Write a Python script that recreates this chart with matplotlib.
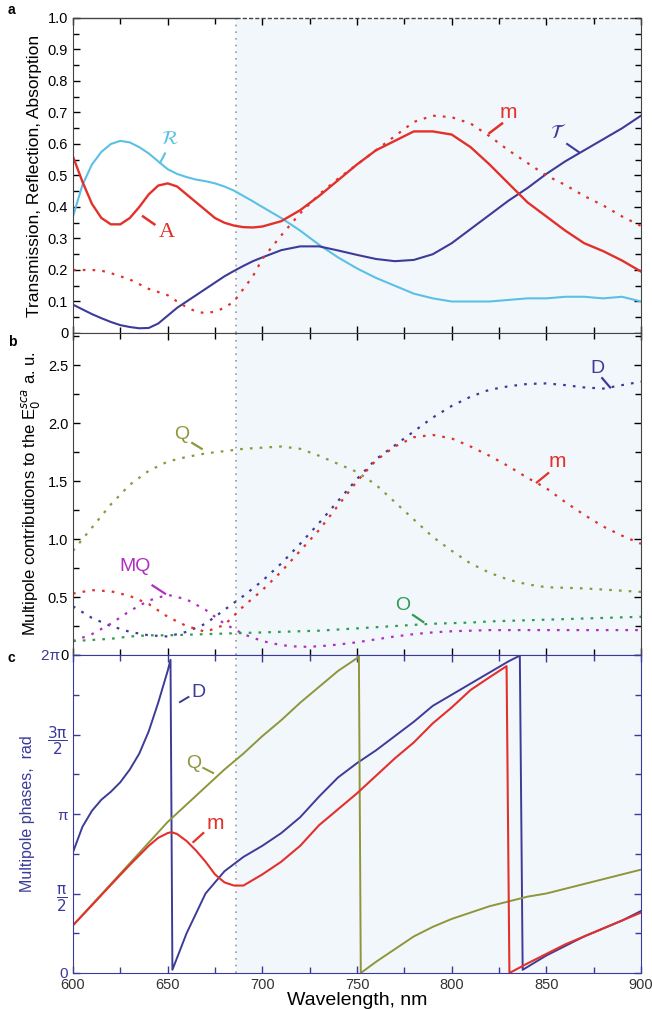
import numpy as np
import matplotlib
matplotlib.use("Agg")
import matplotlib.pyplot as plt
from matplotlib.ticker import MultipleLocator, FixedLocator

plt.rcParams['font.family'] = ['Liberation Sans', 'DejaVu Sans']
plt.rcParams['mathtext.fontset'] = 'dejavusans'

# ---------------- data ----------------
wl_a = [600, 605, 610, 615, 620, 625, 630, 635, 640, 645, 650, 655, 660, 665, 670,
        675, 680, 685, 690, 695, 700, 710, 720, 730, 740, 750, 760, 770, 780, 790,
        800, 810, 820, 830, 840, 850, 860, 870, 880, 890, 900]

# panel a
refl = [0.37, 0.47, 0.535, 0.575, 0.60, 0.61, 0.605, 0.59, 0.57, 0.545, 0.52, 0.505,
        0.495, 0.487, 0.482, 0.475, 0.465, 0.452, 0.435, 0.418, 0.40, 0.365,
        0.325, 0.28, 0.24, 0.205, 0.175, 0.15, 0.125, 0.11, 0.10, 0.10, 0.10, 0.105,
        0.11, 0.11, 0.115, 0.115, 0.11, 0.115, 0.10]
trans = [0.09, 0.075, 0.06, 0.047, 0.035, 0.025, 0.019, 0.015, 0.016, 0.03, 0.055,
         0.08, 0.10, 0.12, 0.14, 0.16, 0.18, 0.197, 0.213, 0.228, 0.24, 0.263,
         0.275, 0.275, 0.262, 0.248, 0.235, 0.228, 0.232, 0.25, 0.285, 0.33, 0.375,
         0.42, 0.46, 0.505, 0.545, 0.58, 0.615, 0.65, 0.69]
absorp = [0.56, 0.48, 0.41, 0.365, 0.345, 0.345, 0.365, 0.40, 0.44, 0.468, 0.475,
          0.465, 0.44, 0.415, 0.39, 0.365, 0.35, 0.341, 0.336, 0.335, 0.338, 0.355,
          0.39, 0.435, 0.485, 0.535, 0.58, 0.61, 0.64, 0.64, 0.63, 0.59, 0.535, 0.475,
          0.415, 0.37, 0.325, 0.285, 0.26, 0.23, 0.195]
absorp_m = [0.20, 0.20, 0.20, 0.198, 0.19, 0.18, 0.17, 0.155, 0.14, 0.13, 0.12, 0.10,
            0.082, 0.068, 0.063, 0.068, 0.08, 0.10, 0.14, 0.18, 0.235, 0.31,
            0.38, 0.44, 0.49, 0.535, 0.58, 0.625, 0.67, 0.69, 0.685, 0.665, 0.625, 0.58,
            0.54, 0.50, 0.47, 0.435, 0.405, 0.37, 0.34]

# panel b
wl_b = np.arange(600, 901, 10)
cont_Q = [0.90, 1.10, 1.30, 1.47, 1.59, 1.67, 1.71, 1.74, 1.76, 1.78, 1.79, 1.80,
          1.78, 1.72, 1.65, 1.58, 1.47, 1.32, 1.17, 1.02, 0.90, 0.79, 0.71, 0.65,
          0.61, 0.585, 0.58, 0.575, 0.565, 0.555, 0.545]
cont_D = [0.42, 0.32, 0.25, 0.20, 0.17, 0.16, 0.20, 0.27, 0.39, 0.51, 0.64, 0.79,
          0.96, 1.14, 1.33, 1.52, 1.69, 1.81, 1.93, 2.05, 2.15, 2.23, 2.29, 2.32,
          2.34, 2.345, 2.33, 2.31, 2.30, 2.33, 2.36]
cont_m = [0.53, 0.56, 0.55, 0.51, 0.44, 0.33, 0.25, 0.20, 0.26, 0.42, 0.56, 0.72,
          0.90, 1.08, 1.29, 1.50, 1.68, 1.80, 1.88, 1.90, 1.87, 1.80, 1.72, 1.63,
          1.53, 1.44, 1.32, 1.21, 1.11, 1.03, 0.96]
cont_MQ = [0.12, 0.18, 0.27, 0.38, 0.47, 0.52, 0.48, 0.39, 0.27, 0.18, 0.12, 0.085,
           0.07, 0.075, 0.09, 0.11, 0.135, 0.16, 0.18, 0.195, 0.205, 0.21, 0.215, 0.215,
           0.215, 0.215, 0.215, 0.215, 0.215, 0.215, 0.215]
cont_O = [0.12, 0.13, 0.14, 0.16, 0.17, 0.17, 0.175, 0.18, 0.185, 0.19, 0.195, 0.20,
          0.205, 0.21, 0.22, 0.23, 0.24, 0.25, 0.26, 0.27, 0.275, 0.28, 0.29, 0.295,
          0.30, 0.305, 0.31, 0.315, 0.32, 0.325, 0.33]

# panel c : phases in units of 2*pi (fraction of a full turn)
wl_phD = [600, 605, 610, 615, 620, 625, 630, 635, 640, 645, 650, 651.5, 652.5,
          660, 670, 680, 690, 700, 710, 720, 730, 740, 750, 760, 770, 780, 790,
          800, 810, 820, 830, 836, 837.5, 850, 860, 870, 880, 890, 900]
ph_D = [0.38, 0.46, 0.51, 0.545, 0.57, 0.60, 0.64, 0.69, 0.76, 0.85, 0.95, 0.985, 0.01,
        0.125, 0.25, 0.32, 0.365, 0.40, 0.44, 0.49, 0.555, 0.615, 0.66, 0.70, 0.745,
        0.79, 0.84, 0.875, 0.91, 0.945, 0.98, 0.998, 0.01, 0.055, 0.085, 0.115,
        0.14, 0.165, 0.195]
wl_phQ = [600, 610, 620, 630, 640, 650, 660, 670, 680, 690, 700, 710, 720, 730, 740,
          750, 751, 752, 760, 770, 780, 790, 800, 810, 820, 830, 840, 850, 860, 870,
          880, 890, 900]
ph_Q = [0.15, 0.215, 0.28, 0.345, 0.41, 0.475, 0.53, 0.585, 0.64, 0.69, 0.745, 0.795,
        0.85, 0.90, 0.95, 0.99, 0.998, 0.0, 0.035, 0.075, 0.115, 0.145, 0.17, 0.19,
        0.21, 0.225, 0.24, 0.25, 0.265, 0.28, 0.295, 0.31, 0.325]
wl_phm = [600, 610, 620, 630, 640, 645, 650, 652, 655, 660, 665, 670, 675, 680, 685,
          690, 700, 710, 720, 730, 740, 750, 760, 770, 780, 790, 800, 810, 820, 829,
          830.5, 840, 850, 860, 870, 880, 890, 900]
ph_m = [0.15, 0.213, 0.277, 0.34, 0.40, 0.425, 0.44, 0.443, 0.437, 0.415, 0.385, 0.35,
        0.31, 0.285, 0.275, 0.275, 0.31, 0.35, 0.40, 0.465, 0.515, 0.565, 0.62, 0.675,
        0.725, 0.785, 0.835, 0.89, 0.93, 0.965, 0.0, 0.03, 0.06, 0.09, 0.115, 0.14,
        0.165, 0.19]

phase_ticks = [0, np.pi / 2, np.pi, 3 * np.pi / 2, 2 * np.pi]
phase_ticklabels = ['0', r'$\dfrac{\mathrm{\pi}}{2}$', 'π', r'$\dfrac{3\mathrm{\pi}}{2}$', '2π  ']
x_ticks = [600, 650, 700, 750, 800, 850, 900]
region_start = 686

# ---------------- style ----------------
c_R = '#5cc0e6'
c_T = '#3c3c98'
c_red = '#e2312b'
c_Q = '#8f963a'
c_MQ = '#b02ec0'
c_O = '#2f9a52'
c_ax = '#3a3a9a'
shade = '#f2f7fc'
dot = (0, (1.2, 3.2))

fig = plt.figure(figsize=(6.52, 10.09), dpi=100)
L, R = 73 / 652, 641 / 652
H = 1009
def box(top, bot):
    return [L, 1 - bot / H, R - L, (bot - top) / H]

axa = fig.add_axes(box(18, 333))
axb = fig.add_axes(box(333, 655))
axc = fig.add_axes(box(655, 973))

for ax in (axa, axb, axc):
    ax.set_xlim(600, 900)
    ax.axvspan(region_start, 900, color=shade, zorder=0, lw=0)
    ax.axvline(region_start, color='#9a9a9a', ls=(0, (1, 3)), lw=1.2, zorder=1)
    ax.xaxis.set_major_locator(FixedLocator(x_ticks))
    ax.xaxis.set_minor_locator(MultipleLocator(25))
    ax.tick_params(which='both', direction='in', top=True, right=True, labelsize=10.5)
    ax.tick_params(which='major', length=5, width=1)
    ax.tick_params(which='minor', length=4, width=1)

# panel a
axa.plot(wl_a, refl, color=c_R, lw=1.5)
axa.plot(wl_a, trans, color=c_T, lw=1.5)
axa.plot(wl_a, absorp, color=c_red, lw=1.7)
axa.plot(wl_a, absorp_m, color=c_red, lw=1.6, ls=dot)
axa.set_ylim(0, 1.0)
axa.set_yticks(np.arange(0, 1.01, 0.1))
axa.set_yticklabels(['0', '0.1', '0.2', '0.3', '0.4', '0.5', '0.6', '0.7', '0.8', '0.9', '1.0'])
axa.yaxis.set_minor_locator(MultipleLocator(0.05))
axa.tick_params(axis='x', labelbottom=False)
for s in axa.spines.values():
    s.set_color('#444444')
axa.spines['top'].set_visible(False)
axa.plot([600, region_start], [1, 1], color='#444444', lw=1, clip_on=False)
axa.plot([region_start, 900], [1, 1], color='#444444', lw=1, ls=(0, (3, 1.5)), clip_on=False)
axa.set_ylabel('Transmission, Reflection, Absorption', fontsize=12.5, labelpad=4)

axa.text(651, 0.615, r'$\mathcal{R}$', color=c_R, fontsize=14, ha='center', va='center')
axa.plot([648.6, 646], [0.57, 0.54], color=c_R, lw=1.5)
axa.text(649.6, 0.32, 'A', color=c_red, fontsize=16, family='Liberation Serif', ha='center', va='center')
axa.plot([637, 643], [0.37, 0.345], color=c_red, lw=1.8)
axa.text(830, 0.70, 'm', color=c_red, fontsize=15, ha='center', va='center')
axa.plot([826.6, 820], [0.665, 0.635], color=c_red, lw=1.8)
axa.text(856, 0.635, r'$\mathcal{T}$', color=c_T, fontsize=14, ha='center', va='center')
axa.plot([861, 867], [0.60, 0.575], color=c_T, lw=1.5)

# panel b
axb.plot(wl_b, cont_Q, color=c_Q, lw=1.6, ls=dot)
axb.plot(wl_b, cont_D, color=c_T, lw=1.6, ls=dot)
axb.plot(wl_b, cont_m, color=c_red, lw=1.6, ls=dot)
axb.plot(wl_b, cont_MQ, color=c_MQ, lw=1.6, ls=dot)
axb.plot(wl_b, cont_O, color=c_O, lw=1.6, ls=dot)
axb.set_ylim(0, 2.78)
axb.set_yticks([0, 0.5, 1.0, 1.5, 2.0, 2.5])
axb.set_yticklabels(['0', '0.5', '1.0', '1.5', '2.0', '2.5'])
axb.yaxis.set_minor_locator(MultipleLocator(0.25))
axb.tick_params(axis='x', labelbottom=False)
for s in axb.spines.values():
    s.set_color('#444444')
axb.spines['bottom'].set_color(c_ax)
axb.set_ylabel(r'Multipole contributions to the E$_0^{sca}$ a. u.', fontsize=12, labelpad=4)

axb.text(657.5, 1.90, 'Q', color=c_Q, fontsize=14, ha='center', va='center')
axb.plot([663, 668], [1.83, 1.78], color=c_Q, lw=1.6)
axb.text(633, 0.76, 'MQ', color=c_MQ, fontsize=14, ha='center', va='center')
axb.plot([642, 648.6], [0.60, 0.53], color=c_MQ, lw=1.6)
axb.text(877, 2.47, 'D', color=c_T, fontsize=14, ha='center', va='center')
axb.plot([879.5, 883.7], [2.39, 2.31], color=c_T, lw=1.6)
axb.text(856, 1.67, 'm', color=c_red, fontsize=15, ha='center', va='center')
axb.plot([851, 845], [1.57, 1.49], color=c_red, lw=1.6)
axb.text(774, 0.43, 'O', color=c_O, fontsize=14, ha='center', va='center')
axb.plot([779.6, 785], [0.345, 0.285], color=c_O, lw=1.6)

# panel c
two_pi = 2 * np.pi
axc.plot(wl_phD, np.array(ph_D) * two_pi, color=c_T, lw=1.4)
axc.plot(wl_phQ, np.array(ph_Q) * two_pi, color=c_Q, lw=1.4)
axc.plot(wl_phm, np.array(ph_m) * two_pi, color=c_red, lw=1.5)
axc.set_ylim(0, two_pi)
axc.set_yticks(phase_ticks)
axc.set_yticklabels(phase_ticklabels)
axc.yaxis.set_minor_locator(MultipleLocator(np.pi / 4))
axc.set_xticklabels([str(v) for v in x_ticks])
for s in axc.spines.values():
    s.set_color(c_ax)
axc.tick_params(axis='y', which='both', colors=c_ax, labelcolor=c_ax, labelsize=11)
axc.tick_params(axis='x', which='both', colors=c_ax, labelcolor='#333333')
axc.set_ylabel('Multipole phases,  rad', color=c_ax, fontsize=11.5, labelpad=4)
axc.set_xlabel('Wavelength, nm', fontsize=14, labelpad=0)

axc.text(666, 5.55, 'D', color=c_T, fontsize=14, ha='center', va='center')
axc.plot([656.5, 661], [0.852 * two_pi, 0.868 * two_pi], color=c_T, lw=1.4)
axc.text(663.6, 0.66 * two_pi, 'Q', color=c_Q, fontsize=14, ha='center', va='center')
axc.plot([668.8, 674], [0.645 * two_pi, 0.629 * two_pi], color=c_Q, lw=1.4)
axc.text(675, 0.47 * two_pi, 'm', color=c_red, fontsize=15, ha='center', va='center')
axc.plot([668.8, 663.6], [0.44 * two_pi, 0.412 * two_pi], color=c_red, lw=1.6)

# panel letters
fig.text(8 / 652, 1 - 10 / H, 'a', fontsize=10, fontweight='bold', va='center')
fig.text(8 / 652, 1 - 342 / H, 'b', fontsize=10, fontweight='bold', va='center')
fig.text(8 / 652, 1 - 658 / H, 'c', fontsize=10, fontweight='bold', va='center')

fig.savefig('out.png', dpi=100)
